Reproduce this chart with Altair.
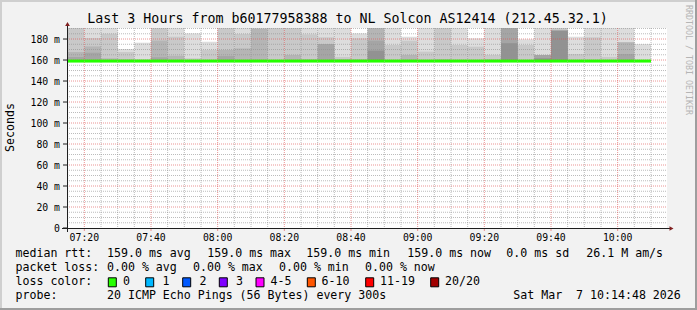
import altair as alt
import pandas as pd

FONT = "DejaVu Sans Mono"

# ---------------- data ----------------
title_text = "Last 3 Hours from b60177958388 to NL Solcon AS12414 (212.45.32.1)"
y_axis_title = "Seconds"
watermark = "RRDTOOL / TOBI OETIKER"

interval_start = ["07:15", "07:20", "07:25", "07:30", "07:35", "07:40", "07:45", "07:50", "07:55",
                  "08:00", "08:05", "08:10", "08:15", "08:20", "08:25", "08:30", "08:35", "08:40",
                  "08:45", "08:50", "08:55", "09:00", "09:05", "09:10", "09:15", "09:20", "09:25",
                  "09:30", "09:35", "09:40", "09:45", "09:50", "09:55", "10:00", "10:05"]

# smoke bands (top of each grey band, ms); 0 = band not present
smoke_s0 = [192, 192, 192, 170.5, 176.5, 192, 192, 185.4, 177.4, 192,
            192, 192, 192, 192, 192, 192, 192, 185.4, 192, 192,
            182.2, 192, 192, 192, 180.7, 192, 192, 179.7, 192, 192,
            182.2, 192, 192, 192, 175.2]
smoke_s1 = [192, 181, 185, 167.6, 160.7, 192, 182.2, 161.6, 169.5, 192,
            184.8, 192, 192, 192, 184.4, 181.6, 163, 180.7, 192, 174.3,
            178.4, 168, 192, 174.3, 172.7, 164.8, 192, 174.3, 164.8, 192,
            165.7, 181.6, 163.1, 176.9, 0]
smoke_s2 = [167.6, 173, 161.6, 160.7, 0, 178.5, 164, 0, 0, 169.5,
            171, 189.5, 0, 164.8, 160.7, 175.2, 161, 160.7, 192, 0,
            164.8, 0, 160.7, 0, 0, 160.7, 192, 0, 164.8, 188,
            0, 0, 0, 176.9, 0]
smoke_s3 = [162.9, 167, 0, 0, 0, 162.6, 0, 0, 0, 163.8,
            0, 0, 0, 0, 0, 175.2, 0, 0, 178.4, 0,
            0, 0, 0, 0, 0, 0, 192, 0, 164.8, 188,
            0, 0, 0, 165.7, 0]
smoke_s4 = [0, 0, 0, 0, 0, 0, 0, 0, 0, 0,
            0, 0, 0, 0, 0, 0, 0, 0, 168.9, 0,
            0, 0, 0, 0, 0, 0, 176, 0, 161.6, 188,
            0, 0, 0, 0, 0]
median_rtt = [159.0] * 35
smoke_floor = 159.0

x_tick_labels = ["07:20", "07:40", "08:00", "08:20", "08:40", "09:00", "09:20", "09:40", "10:00"]
y_tick_values = [0, 20, 40, 60, 80, 100, 120, 140, 160, 180]
y_tick_labels = ["0\u00a0\u00a0", "20 m", "40 m", "60 m", "80 m", "100 m", "120 m", "140 m", "160 m", "180 m"]

legend_rtt = ["median rtt:", "159.0 ms avg", "159.0 ms max", "159.0 ms min", "159.0 ms now",
              "0.0 ms sd", "26.1 M am/s"]
legend_loss = ["packet loss:", "0.00 % avg", "0.00 % max", "0.00 % min", "0.00 % now"]
loss_title = "loss color:"
loss_labels = ["0", "1", "2", "3", "4-5", "6-10", "11-19", "20/20"]
loss_colors = ["#26ff00", "#00b8ff", "#0059ff", "#7e00ff", "#ff00ff", "#ff5500", "#ff0000", "#a10000"]
probe_label = "probe:"
probe_text = "20 ICMP Echo Pings (56 Bytes) every 300s"
stamp_text = "Sat Mar\u00a0\u00a07 10:14:48 2026"

shade_names = ["s0", "s1", "s2", "s3", "s4"]
shade_colors = ["#dddddd", "#c9c9c9", "#b5b5b5", "#a5a5a5", "#929292"]

# ---------------- helpers ----------------
def to_min(t):
    h, m = t.split(":")
    return int(h) * 60 + int(m)

X_DOMAIN = [434.8, 614.8]   # 07:14:48 .. 10:14:48
Y_DOMAIN = [0, 190.5]
W, H = 600, 200

xs = alt.Scale(domain=X_DOMAIN, nice=False, zero=False)
ys = alt.Scale(domain=Y_DOMAIN, nice=False, zero=False)

rows = []
for name, arr in zip(shade_names, [smoke_s0, smoke_s1, smoke_s2, smoke_s3, smoke_s4]):
    for t, top in zip(interval_start, arr):
        if top > smoke_floor:
            rows.append({"x0": to_min(t), "x1": to_min(t) + 5, "y0": smoke_floor, "y1": top, "shade": name})
smoke_df = pd.DataFrame(rows)

med_df = pd.DataFrame({"x0": [to_min(t) for t in interval_start],
                       "x1": [to_min(t) + 5 for t in interval_start],
                       "m": median_rtt})

smoke = alt.Chart(smoke_df).mark_rect(clip=True).encode(
    x=alt.X("x0:Q", scale=xs, axis=None), x2="x1:Q",
    y=alt.Y("y0:Q", scale=ys, axis=None), y2="y1:Q",
    color=alt.Color("shade:N", scale=alt.Scale(domain=shade_names, range=shade_colors), legend=None),
)

# grid
minor_x = [m for m in range(435, 615, 5) if m % 20 != 0]
major_x = [to_min(t) for t in x_tick_labels]
minor_y = [v for v in range(5, 191, 5) if v % 20 != 0]
major_y = [v for v in y_tick_values if v > 0]

GRID = dict(color="#8f8f8f", opacity=0.6, strokeDash=[1, 1], strokeWidth=1)
MGRID = dict(color="#de4f4f", opacity=0.6, strokeDash=[1, 1], strokeWidth=1)

gx_minor = alt.Chart(pd.DataFrame({"m": minor_x})).mark_rule(**GRID).encode(
    x=alt.X("m:Q", scale=xs, axis=None), y=alt.value(0), y2=alt.value(H))
gy_minor = alt.Chart(pd.DataFrame({"v": minor_y})).mark_rule(**GRID).encode(
    y=alt.Y("v:Q", scale=ys, axis=None), x=alt.value(0), x2=alt.value(W))
gx_major = alt.Chart(pd.DataFrame({"m": major_x})).mark_rule(**MGRID).encode(
    x=alt.X("m:Q", scale=xs, axis=None), y=alt.value(0), y2=alt.value(H))
gy_major = alt.Chart(pd.DataFrame({"v": major_y})).mark_rule(**MGRID).encode(
    y=alt.Y("v:Q", scale=ys, axis=None), x=alt.value(0), x2=alt.value(W))

median = alt.Chart(med_df).mark_rule(color="#26ff00", strokeWidth=3).encode(
    x=alt.X("x0:Q", scale=xs, axis=None), x2="x1:Q", y=alt.Y("m:Q", scale=ys, axis=None))

one = pd.DataFrame({"a": [0]})

# axes
AX = "#1f1f1f"
y_axis_line = alt.Chart(one).mark_rule(color=AX, strokeWidth=1).encode(
    x=alt.value(0.5), y=alt.value(-3), y2=alt.value(H + 4))
x_axis_line = alt.Chart(one).mark_rule(color=AX, strokeWidth=1).encode(
    y=alt.value(H + 0.5), x=alt.value(-5), x2=alt.value(W + 4))
arrow_up = alt.Chart(one).mark_point(shape="triangle-up", filled=True, size=22, color="#801f1f", opacity=1).encode(
    x=alt.value(0.5), y=alt.value(-4))
arrow_right = alt.Chart(one).mark_point(shape="triangle-right", filled=True, size=22, color="#801f1f", opacity=1).encode(
    x=alt.value(W + 4.5), y=alt.value(H + 0.5))

yticks = alt.Chart(pd.DataFrame({"v": y_tick_values})).mark_rule(color=AX).encode(
    y=alt.Y("v:Q", scale=ys, axis=None), x=alt.value(-4), x2=alt.value(0))
xticks = alt.Chart(pd.DataFrame({"m": major_x})).mark_rule(color="#de4f4f", opacity=0.6).encode(
    x=alt.X("m:Q", scale=xs, axis=None), y=alt.value(H), y2=alt.value(H + 3))

ylabels = alt.Chart(pd.DataFrame({"v": y_tick_values, "lab": y_tick_labels})).mark_text(
    font=FONT, fontSize=9.8, align="right", baseline="middle", color="#000000", dy=1).encode(
    y=alt.Y("v:Q", scale=ys, axis=None), x=alt.value(-7), text="lab:N")
xlabels = alt.Chart(pd.DataFrame({"m": major_x, "lab": x_tick_labels})).mark_text(
    font=FONT, fontSize=9.8, align="center", baseline="middle", color="#000000").encode(
    x=alt.X("m:Q", scale=xs, axis=None), y=alt.value(209.5), text="lab:N")


def txt(s, x, y, size=11.6, align="left", angle=0, color="#000000"):
    return alt.Chart(one).mark_text(text=s, font=FONT, fontSize=size, align=align, baseline="middle",
                                    angle=angle, color=color).encode(x=alt.value(x), y=alt.value(y))


def box(x0, x1, y0, y1, color, stroke=None):
    kw = dict(color=color)
    if stroke:
        kw.update(stroke=stroke, strokeWidth=1)
    return alt.Chart(one).mark_rect(**kw).encode(
        x=alt.value(x0), x2=alt.value(x1), y=alt.value(y0), y2=alt.value(y1))


layers = [
    # frame (3D border)
    box(-67, 630, -28, -26, "#cfcfcf"),
    box(-67, -65, -28, 282, "#cfcfcf"),
    box(628, 630, -28, 282, "#9e9e9e"),
    box(-67, 630, 280, 282, "#9e9e9e"),
    smoke, gx_minor, gy_minor, gx_major, gy_major, median,
    yticks, xticks, y_axis_line, x_axis_line, arrow_up, arrow_right,
    ylabels, xlabels,
    txt(title_text, 280.5, -8.7, size=13.3, align="center"),
    txt(y_axis_title, -56.5, 99.5, size=11.6, align="center", angle=270),
    txt(watermark, 620.5, 32, size=8.3, align="center", angle=90, color="#b5b5b5"),
]

# legend rows
L1, L2, L3, L4 = 226.3, 240.3, 254.3, 268.0
rtt_x = [-51.5, 40, 140.3, 239.3, 340.3, 439.3, 519.3]
for s, x in zip(legend_rtt, rtt_x):
    layers.append(txt(s, x, L1))
loss_x = [-51.5, 40, 126, 212, 298]
for s, x in zip(legend_loss, loss_x):
    layers.append(txt(s, x, L2))
layers.append(txt(loss_title, -51.5, L3))
sq_x = [41.3, 78.7, 115.7, 152.3, 189, 240.3, 298.7, 363.7]
lab_x = [56, 95.5, 132.5, 169, 203.5, 254.5, 313, 378]
for lab, col, sx, lx in zip(loss_labels, loss_colors, sq_x, lab_x):
    layers.append(box(sx, sx + 8, L3 - 4.5, L3 + 4.5, col, stroke="#000000"))
    layers.append(txt(lab, lx, L3))
layers.append(txt(probe_label, -51.5, L4))
layers.append(txt(probe_text, 40, L4))
layers.append(txt(stamp_text, 613.8, L4, align="right"))

chart = alt.layer(*layers).properties(
    width=W, height=H,
    padding={"left": 67, "top": 28, "right": 30, "bottom": 82},
    autosize=alt.AutoSizeParams(type="none"),
    background="#f2f2f2",
).configure_view(stroke=None, fill="#ffffff")

chart.save("out.html", embed_options={"renderer": "svg", "actions": False})
